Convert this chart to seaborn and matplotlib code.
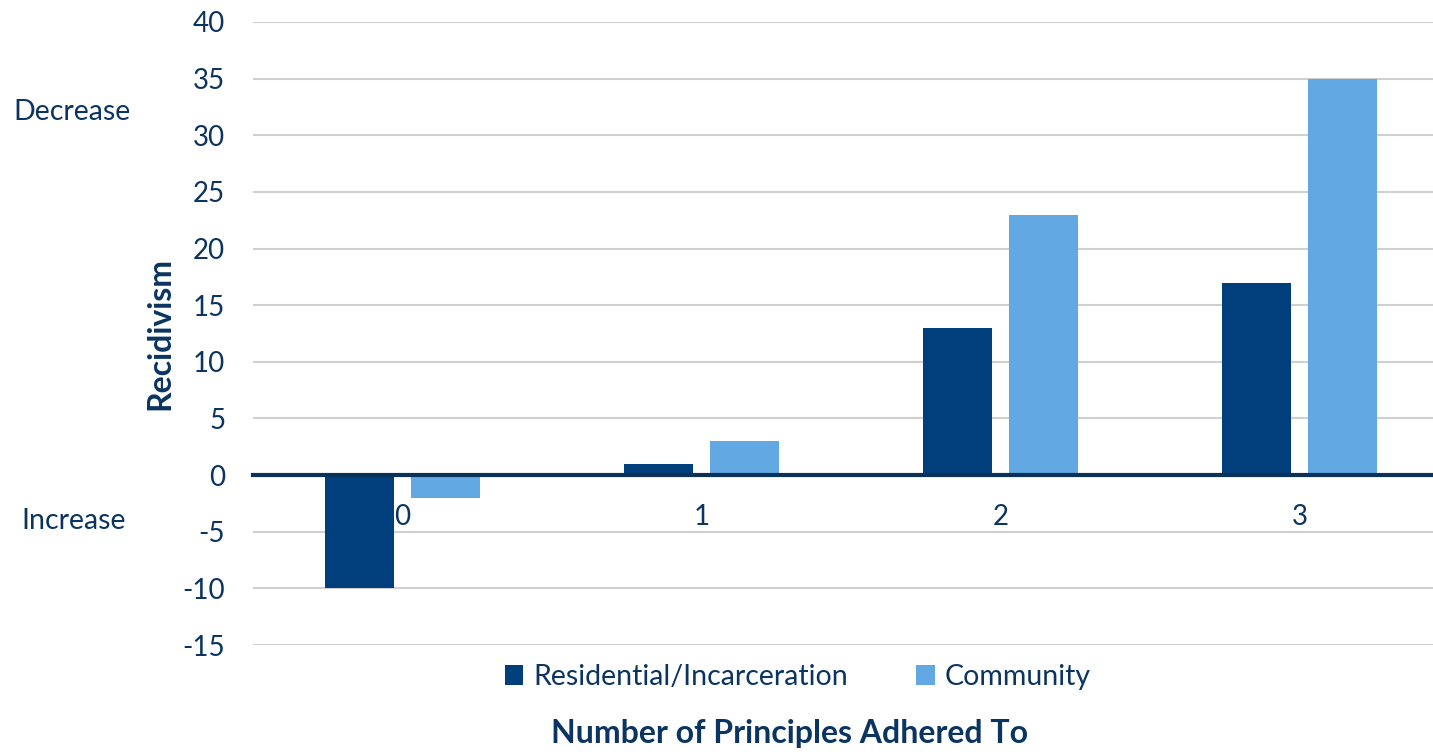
import matplotlib
matplotlib.use("Agg")
import matplotlib.pyplot as plt
import seaborn as sns
import pandas as pd

# Effect on recidivism by number of principles followed
principles = ["0", "1", "2", "3"]
residential = [-10, 1, 13, 17]
community = [-2, 3, 23, 35]
series_names = ["Residential/Incarceration", "Community"]
y_ticks = [-15, -10, -5, 0, 5, 10, 15, 20, 25, 30, 35, 40]

df = pd.DataFrame({
    "principles": principles * 2,
    "value": residential + community,
    "setting": [series_names[0]] * len(principles) + [series_names[1]] * len(principles),
})

sns.set_theme(style="white")
plt.rcParams["font.family"] = ["Lato", "DejaVu Sans"]
text_color = "#0B3560"
dark_blue = "#003F7B"
light_blue = "#62A8E3"

fig = plt.figure(figsize=(14.33, 7.52), dpi=100)
ax = fig.add_axes([253 / 1433, 1 - 645 / 752, 1196 / 1433, (645 - 22) / 752])

sns.barplot(data=df, x="principles", y="value", hue="setting",
            palette=[dark_blue, light_blue], saturation=1, width=0.57, gap=0.19,
            edgecolor="none", ax=ax, legend=True)

ax.set_ylim(-15, 40)
ax.set_yticks(y_ticks)
ax.set_yticklabels([str(t) for t in y_ticks])
ax.set_xlim(-0.5, 3.5)
ax.yaxis.grid(True, color="#D0D0D0", linewidth=1.5)
ax.set_axisbelow(True)
for side in ["left", "right", "top"]:
    ax.spines[side].set_visible(False)
ax.spines["bottom"].set_position(("data", 0))
ax.spines["bottom"].set_color("#0A3158")
ax.spines["bottom"].set_linewidth(3)
ax.spines["bottom"].set_zorder(5)

ax.tick_params(axis="y", length=0, pad=20, labelsize=20, labelcolor=text_color)
ax.tick_params(axis="x", length=0, pad=21, labelsize=20, labelcolor=text_color)
ax.set_xlabel("")
ax.set_ylabel("Recidivism", fontsize=23, fontweight="bold", color=text_color, labelpad=6)

handles, labels = ax.get_legend_handles_labels()
ax.legend(handles, labels, loc="center", bbox_to_anchor=(798 / 1433, 1 - 677 / 752),
          bbox_transform=fig.transFigure, ncol=2, frameon=False, fontsize=20.5,
          handlelength=0.65, handleheight=0.65, handletextpad=0.35,
          columnspacing=2.4, labelcolor=text_color)

fig.text(790 / 1433, 1 - 733 / 752, "Number of Principles Adhered To",
         ha="center", va="center", fontsize=23, fontweight="bold", color=text_color)
fig.text(72 / 1433, 1 - 112 / 752, "Decrease", ha="center", va="center",
         fontsize=20.5, color=text_color)
fig.text(74 / 1433, 1 - 521 / 752, "Increase", ha="center", va="center",
         fontsize=20.5, color=text_color)

fig.savefig("out.png", dpi=100)
